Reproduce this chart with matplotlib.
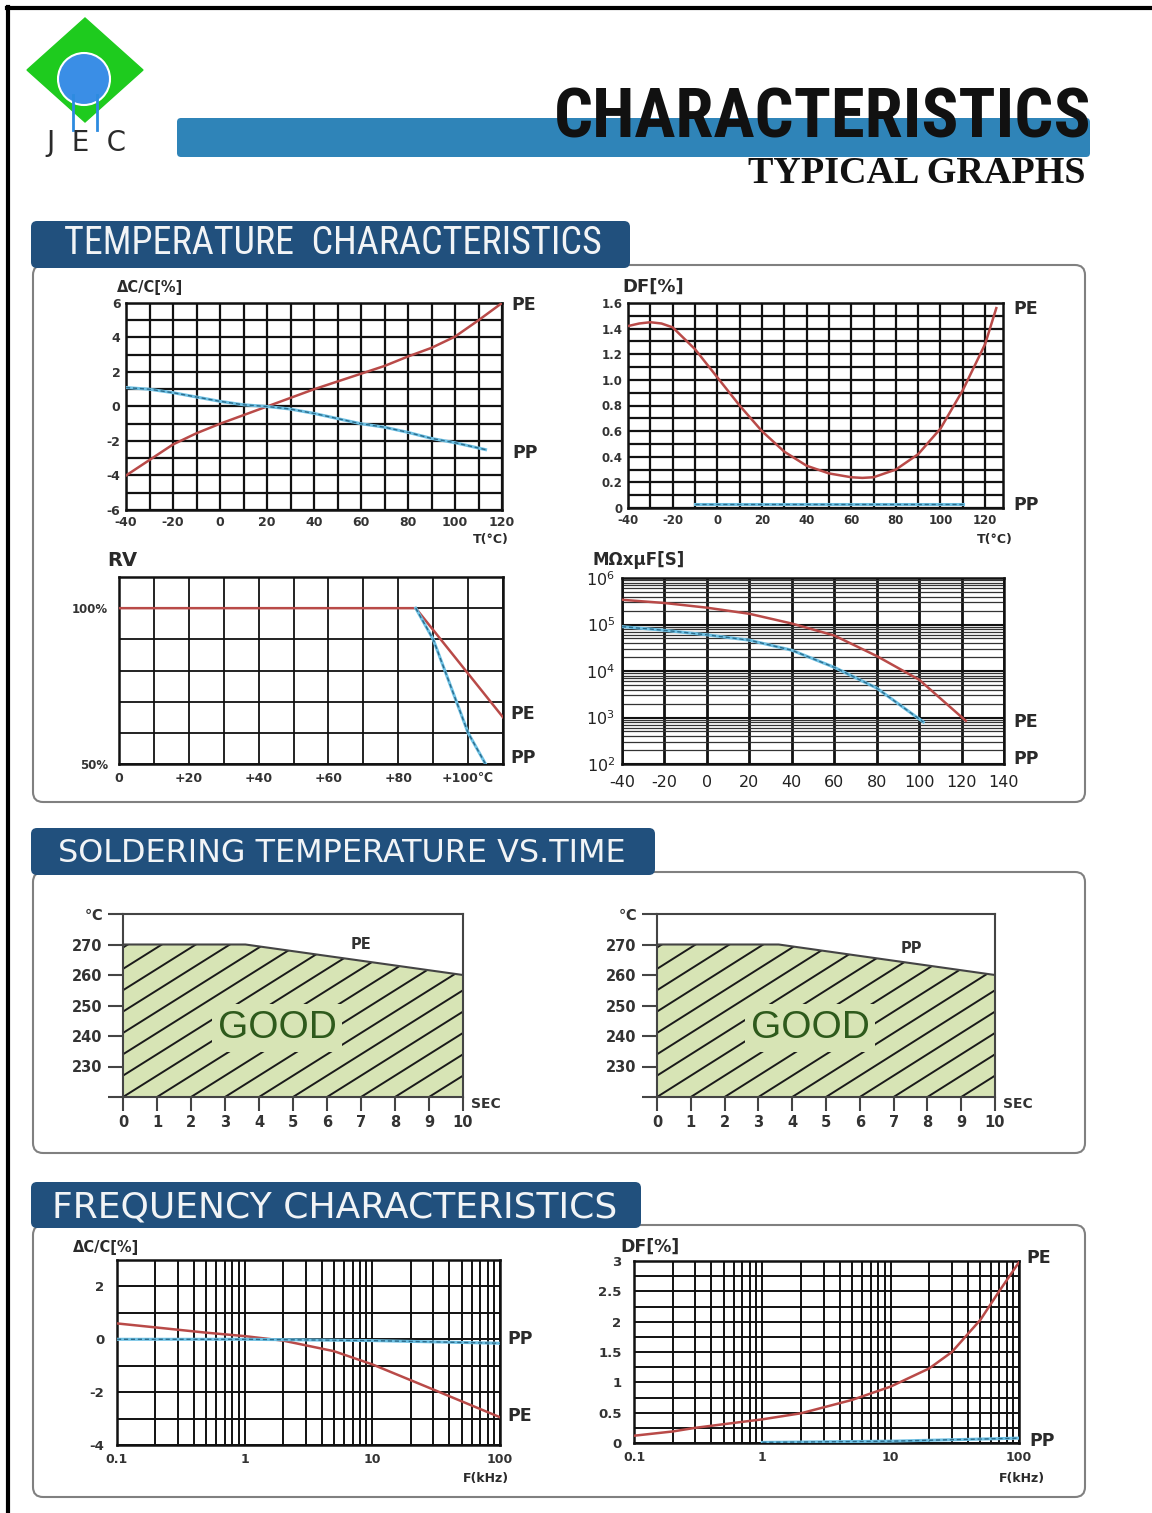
import matplotlib
matplotlib.use('Agg')
import matplotlib.pyplot as plt
import numpy as np
from matplotlib import font_manager
from matplotlib.patches import FancyBboxPatch, Polygon, Circle
from matplotlib.ticker import LogLocator, NullFormatter

# ---------------- datos ----------------
# temperatura: dC/C
dc_pe_t = [-40, -30, -20, -10, 0, 10, 20, 30, 40, 50, 60, 70, 80, 90, 100, 110, 120]
dc_pe = [-4.0, -3.1, -2.2, -1.55, -1.0, -0.5, 0.0, 0.5, 1.0, 1.45, 1.9, 2.35, 2.9, 3.4, 4.05, 5.0, 6.0]
dc_pp_t = [-40, -30, -20, -10, 0, 10, 20, 30, 40, 50, 60, 70, 80, 90, 100, 113]
dc_pp = [1.1, 1.0, 0.8, 0.55, 0.3, 0.1, 0.0, -0.15, -0.4, -0.7, -1.0, -1.2, -1.5, -1.85, -2.1, -2.5]

# temperatura: DF
df_pe_t = [-40, -35, -30, -25, -20, -10, 0, 10, 20, 30, 40, 50, 60, 65, 70, 80, 90, 100, 110, 120, 125]
df_pe = [1.42, 1.44, 1.45, 1.44, 1.41, 1.24, 1.02, 0.8, 0.6, 0.44, 0.33, 0.27, 0.24, 0.235, 0.24,
         0.3, 0.42, 0.62, 0.92, 1.28, 1.56]
df_pp_t = [-10, 110]
df_pp = [0.03, 0.03]

# tension nominal RV
rv_pe_t = [0, 85, 110]
rv_pe = [100, 100, 65]
rv_pp_t = [85, 90, 100, 105]
rv_pp = [100, 90, 60, 50]

# resistencia de aislamiento
ir_pe_t = [-40, -20, 0, 20, 40, 60, 80, 100, 122]
ir_pe = [3.4e5, 2.9e5, 2.3e5, 1.7e5, 1.05e5, 5.8e4, 2.1e4, 6.5e3, 8.5e2]
ir_pp_t = [-40, -20, 0, 20, 40, 60, 80, 102]
ir_pp = [9e4, 7.5e4, 6e4, 4.6e4, 2.8e4, 1.2e4, 4.3e3, 8e2]

# soldadura
sold_sec = [0, 3.6, 10]
sold_pe = [270, 270, 260]
sold_pp = [270, 270, 260]

# frecuencia: dC/C
fdc_f = [0.1, 0.2, 0.5, 1, 2, 5, 10, 30, 100]
fdc_pe = [0.6, 0.45, 0.25, 0.12, -0.05, -0.45, -0.95, -1.9, -2.95]
fdc_pp_f = [0.1, 1, 10, 100]
fdc_pp = [0.0, 0.0, -0.05, -0.15]

# frecuencia: DF
fdf_f = [0.1, 0.2, 0.3, 0.5, 1, 2, 5, 10, 20, 30, 50, 70, 100]
fdf_pe = [0.12, 0.19, 0.25, 0.31, 0.39, 0.49, 0.71, 0.93, 1.23, 1.5, 2.03, 2.5, 2.98]
fdf_pp_f = [1, 10, 100]
fdf_pp = [0.01, 0.03, 0.08]

# ---------------- estilo ----------------
names = {f.name for f in font_manager.fontManager.ttflist}
NARROW = ['DejaVu Sans']
for cand in ['Liberation Sans Narrow', 'Roboto Condensed', 'DejaVu Sans Condensed']:
    if cand in names:
        NARROW = [cand, 'DejaVu Sans']
        break
SANS = ['DejaVu Sans']
SERIF = ['Liberation Serif', 'DejaVu Serif']
plt.rcParams['font.family'] = SANS

RED = '#B94A48'
BLUE = '#6EC1E4'
DBLUE = '#2B6C8C'
TAB = '#21507D'
TXT = '#2a2a2a'
TCK = '#333333'
FILL = '#D7E4B5'

W, H = 1152, 1513
fig = plt.figure(figsize=(W / 100, H / 100), dpi=100)

bg = fig.add_axes([0, 0, 1, 1])
bg.set_xlim(0, W)
bg.set_ylim(H, 0)
bg.axis('off')


def px_axes(l, t, r, b):
    return fig.add_axes([l / W, 1 - b / H, (r - l) / W, (b - t) / H])


def fit(t, width):
    r = fig.canvas.get_renderer()
    w = t.get_window_extent(r).width
    t.set_fontsize(t.get_fontsize() * width / w)


def pe_line(ax, x, y):
    ax.plot(x, y, color=RED, lw=1.8, zorder=5)


def pp_line(ax, x, y):
    ax.plot(x, y, color=BLUE, lw=2.2, zorder=5)
    ax.plot(x, y, color=DBLUE, lw=1.0, ls=(0, (3, 2)), zorder=6)


def grid_axes(ax, lw=1.6):
    ax.grid(which='both', color='#111', lw=lw)
    ax.tick_params(which='both', length=0, pad=4)
    for s in ax.spines.values():
        s.set_color('#111')
        s.set_linewidth(1.8)


def side_label(ax, xf, y, s):
    ax.text(xf, y, s, transform=ax.get_yaxis_transform(), fontsize=12.5, fontweight='bold',
            color=TXT, va='center', ha='left', clip_on=False)


def free_text(x, y, s, size, ha='left'):
    bg.text(x, y, s, fontsize=size, fontweight='bold', color=TXT, ha=ha, va='baseline')


# ---------------- borde y cabecera ----------------
bg.plot([8, 8], [7, H], color='k', lw=3)
bg.plot([7, W], [8, 8], color='k', lw=3)

bg.add_patch(Polygon([(85, 18), (143, 70), (85, 122), (27, 70)], closed=True, color='#1ECB1E'))
bg.plot([73, 73], [95, 130], color='#2D8BE0', lw=2)
bg.plot([97, 97], [95, 130], color='#2D8BE0', lw=2)
bg.add_patch(Circle((84, 79), 26, fc='#3A8EE6', ec='white', lw=1.5))
t = bg.text(46, 151, 'J  E  C', fontsize=19, color=TXT, ha='left', va='baseline')
fit(t, 80)

bg.add_patch(FancyBboxPatch((177, 118), 913, 39, boxstyle='round,pad=0,rounding_size=4',
                            fc='#2F84B8', ec='none'))
t = bg.text(1091, 137, 'CHARACTERISTICS', family=NARROW, fontweight='heavy',
            fontstretch='condensed', fontsize=40, color='#111', ha='right', va='baseline')
fit(t, 536)
t = bg.text(1086, 183, 'TYPICAL GRAPHS', family=SERIF, fontweight='bold', fontsize=22,
            color='#111', ha='right', va='baseline')
fit(t, 337)

# ---------------- paneles ----------------
panels = [(265, 802), (872, 1153), (1225, 1497)]
for top, bot in panels:
    bg.add_patch(FancyBboxPatch((33, top), 1052, bot - top, boxstyle='round,pad=0,rounding_size=10',
                                fc='white', ec='#808080', lw=1.5))

tabs = [(221, 265, 630, 'TEMPERATURE  CHARACTERISTICS', NARROW, 'condensed', 64, 602, 254),
        (828, 872, 655, 'SOLDERING TEMPERATURE VS.TIME', SANS, 'normal', 58, 627, 862),
        (1182, 1225, 641, 'FREQUENCY CHARACTERISTICS', SANS, 'normal', 52, 618, 1217)]
for top, bot, right, label, fam, stretch, x0, x1, base in tabs:
    bg.add_patch(FancyBboxPatch((31, top), right - 31, bot - top + 3,
                                boxstyle='round,pad=0,rounding_size=6', fc=TAB, ec='none'))
    t = bg.text(x0, base, label, family=fam, fontstretch=stretch, fontsize=20,
                color='#F2F4F6', ha='left', va='baseline')
    fit(t, x1 - x0)

# ---------------- A: dC/C vs T ----------------
axA = px_axes(126, 303, 502, 510)
axA.set_xlim(-40, 120)
axA.set_ylim(-6, 6)
tk = list(range(-40, 121, 20))
axA.set_xticks(tk, [str(v) for v in tk], fontsize=9, fontweight='bold', color=TCK)
axA.set_xticks(range(-40, 121, 10), minor=True)
tk = list(range(-6, 7, 2))
axA.set_yticks(tk, [str(v) for v in tk], fontsize=9, fontweight='bold', color=TCK)
axA.set_yticks(range(-6, 7), minor=True)
grid_axes(axA)
pe_line(axA, dc_pe_t, dc_pe)
pp_line(axA, dc_pp_t, dc_pp)
side_label(axA, 1.025, 5.9, 'PE')
side_label(axA, 1.028, -2.7, 'PP')
free_text(117, 292, 'ΔC/C[%]', 10.5)
free_text(509, 543, 'T(°C)', 9, ha='right')

# ---------------- B: DF vs T ----------------
axB = px_axes(628, 303, 1003, 508)
axB.set_xlim(-40, 128)
axB.set_ylim(0, 1.6)
tk = list(range(-40, 121, 20))
axB.set_xticks(tk, [str(v) for v in tk], fontsize=8.5, fontweight='bold', color=TCK)
axB.set_xticks(range(-40, 121, 10), minor=True)
tk = [0, 0.2, 0.4, 0.6, 0.8, 1.0, 1.2, 1.4, 1.6]
axB.set_yticks(tk, ['0'] + ['%.1f' % v for v in tk[1:]], fontsize=8.5, fontweight='bold', color=TCK)
axB.set_yticks(np.arange(0, 1.61, 0.1), minor=True)
grid_axes(axB)
pe_line(axB, df_pe_t, df_pe)
pp_line(axB, df_pp_t, df_pp)
side_label(axB, 1.028, 1.55, 'PE')
side_label(axB, 1.028, 0.02, 'PP')
free_text(622, 292, 'DF[%]', 13)
free_text(1013, 543, 'T(°C)', 9, ha='right')

# ---------------- C: RV ----------------
axC = px_axes(119, 577, 503, 764)
axC.set_xlim(0, 110)
axC.set_ylim(50, 110)
axC.set_xticks(range(0, 101, 20), ['0', '+20', '+40', '+60', '+80', '+100℃'],
               fontsize=9, fontweight='bold', color=TCK)
axC.set_xticks(range(0, 111, 10), minor=True)
axC.set_yticks([50, 100], ['50%', '100%'], fontsize=8.5, fontweight='bold', color=TCK)
axC.set_yticks(range(50, 111, 10), minor=True)
grid_axes(axC, lw=1.3)
axC.tick_params(axis='x', pad=6)
axC.tick_params(axis='y', pad=8)
pe_line(axC, rv_pe_t, rv_pe)
pp_line(axC, rv_pp_t, rv_pp)
side_label(axC, 1.02, 66, 'PE')
side_label(axC, 1.02, 52, 'PP')
free_text(107, 566, 'RV', 14)

# ---------------- D: MOhm x uF ----------------
axD = px_axes(622, 578, 1004, 764)
axD.set_yscale('log')
axD.set_xlim(-40, 140)
axD.set_ylim(1e2, 1e6)
tk = list(range(-40, 141, 20))
axD.set_xticks(tk, [str(v) for v in tk], fontsize=11.5, color='#222')
axD.set_yticks([1e2, 1e3, 1e4, 1e5, 1e6], ['$10^2$', '$10^3$', '$10^4$', '$10^5$', '$10^6$'],
               fontsize=11.5, color='#222')
axD.yaxis.set_minor_locator(LogLocator(base=10, subs=range(2, 10)))
axD.yaxis.set_minor_formatter(NullFormatter())
axD.tick_params(which='both', length=0)
axD.tick_params(axis='x', pad=8)
axD.tick_params(axis='y', pad=5)
axD.grid(axis='x', which='major', color='#111', lw=2)
axD.grid(axis='y', which='major', color='#111', lw=1.5)
axD.grid(axis='y', which='minor', color='#333', lw=0.9)
for s in axD.spines.values():
    s.set_color('#111')
    s.set_linewidth(1.8)
pe_line(axD, ir_pe_t, ir_pe)
pp_line(axD, ir_pp_t, ir_pp)
side_label(axD, 1.024, 8e2, 'PE')
side_label(axD, 1.024, 1.25e2, 'PP')
free_text(592, 565, 'MΩxμF[S]', 12)


# ---------------- soldadura ----------------
def sold_axes(l, r, temps, name, name_x, name_y):
    ax = px_axes(l, 914, r, 1097)
    ax.set_xlim(0, 10)
    ax.set_ylim(220, 280)
    ax.fill_between(sold_sec, temps, 220, color=FILL, lw=0, zorder=1)
    verts = list(zip(sold_sec, temps)) + [(10, 220), (0, 220)]
    clip = Polygon(verts, closed=True, fc='none', ec='none', transform=ax.transData)
    ax.add_patch(clip)
    for k in range(-8, 11):
        xs = np.array([k - 1.0, k + 10.0])
        ln, = ax.plot(xs, 220 + 7 * (xs - k), color='#1a1a1a', lw=1.4, zorder=2)
        ln.set_clip_path(clip)
    ax.plot(sold_sec, temps, color='#444', lw=1.5, zorder=3)
    ax.text(4.53, 242.6, 'GOOD', family=['Liberation Sans', 'DejaVu Sans'], fontsize=28,
            color='#2E5A1C', ha='center', va='center', zorder=4,
            bbox=dict(boxstyle='square,pad=0.15', fc=FILL, ec='none'))
    ax.text(name_x, name_y, name, fontsize=10.5, fontweight='bold', color=TCK, ha='left', va='center')
    ax.set_xticks(range(0, 11), [str(v) for v in range(11)], fontsize=10.5, fontweight='bold', color=TCK)
    ax.set_yticks(range(220, 281, 10), ['', '230', '240', '250', '260', '270', '℃'],
                  fontsize=10.5, fontweight='bold', color=TCK)
    ax.tick_params(axis='x', direction='out', length=10, width=1.5, color='#444', pad=3)
    ax.tick_params(axis='y', direction='out', length=11, width=1.5, color='#444', pad=4)
    for s in ax.spines.values():
        s.set_color('#444')
        s.set_linewidth(1.5)
    ax.text(1.025, -0.04, 'SEC', transform=ax.transAxes, fontsize=10, fontweight='bold',
            color=TCK, ha='left', va='center')
    return ax


sold_axes(123, 463, sold_pe, 'PE', 6.7, 270)
sold_axes(657, 995, sold_pp, 'PP', 7.2, 268.6)


# ---------------- frecuencia ----------------
def freq_axes(l, t, r, b):
    ax = px_axes(l, t, r, b)
    ax.set_xscale('log')
    ax.set_xlim(0.1, 100)
    ax.set_xticks([0.1, 1, 10, 100], ['0.1', '1', '10', '100'], fontsize=9, fontweight='bold', color=TCK)
    ax.xaxis.set_minor_locator(LogLocator(base=10, subs=range(2, 10)))
    ax.xaxis.set_minor_formatter(NullFormatter())
    grid_axes(ax, lw=1.4)
    ax.tick_params(axis='y', pad=9)
    ax.tick_params(axis='x', pad=6)
    return ax


axF1 = freq_axes(117, 1260, 500, 1445)
axF1.set_ylim(-4, 3)
axF1.set_yticks([-4, -2, 0, 2], ['-4', '-2', '0', '2'], fontsize=9.5, fontweight='bold', color=TCK)
axF1.set_yticks(range(-4, 4), minor=True)
pe_line(axF1, fdc_f, fdc_pe)
pp_line(axF1, fdc_pp_f, fdc_pp)
side_label(axF1, 1.02, 0.0, 'PP')
side_label(axF1, 1.02, -2.9, 'PE')
free_text(73, 1252, 'ΔC/C[%]', 10.5)
free_text(486, 1482, 'F(kHz)', 9, ha='center')

axF2 = freq_axes(634, 1261, 1019, 1443)
axF2.set_ylim(0, 3)
tk = [0, 0.5, 1, 1.5, 2, 2.5, 3]
axF2.set_yticks(tk, ['0', '0.5', '1', '1.5', '2', '2.5', '3'], fontsize=9.5, fontweight='bold', color=TCK)
axF2.set_yticks(np.arange(0, 3.01, 0.25), minor=True)
pe_line(axF2, fdf_f, fdf_pe)
pp_line(axF2, fdf_pp_f, fdf_pp)
side_label(axF2, 1.018, 3.05, 'PE')
side_label(axF2, 1.028, 0.03, 'PP')
free_text(620, 1252, 'DF[%]', 12.5)
free_text(1022, 1482, 'F(kHz)', 9, ha='center')

fig.savefig('out.png', dpi=100)
